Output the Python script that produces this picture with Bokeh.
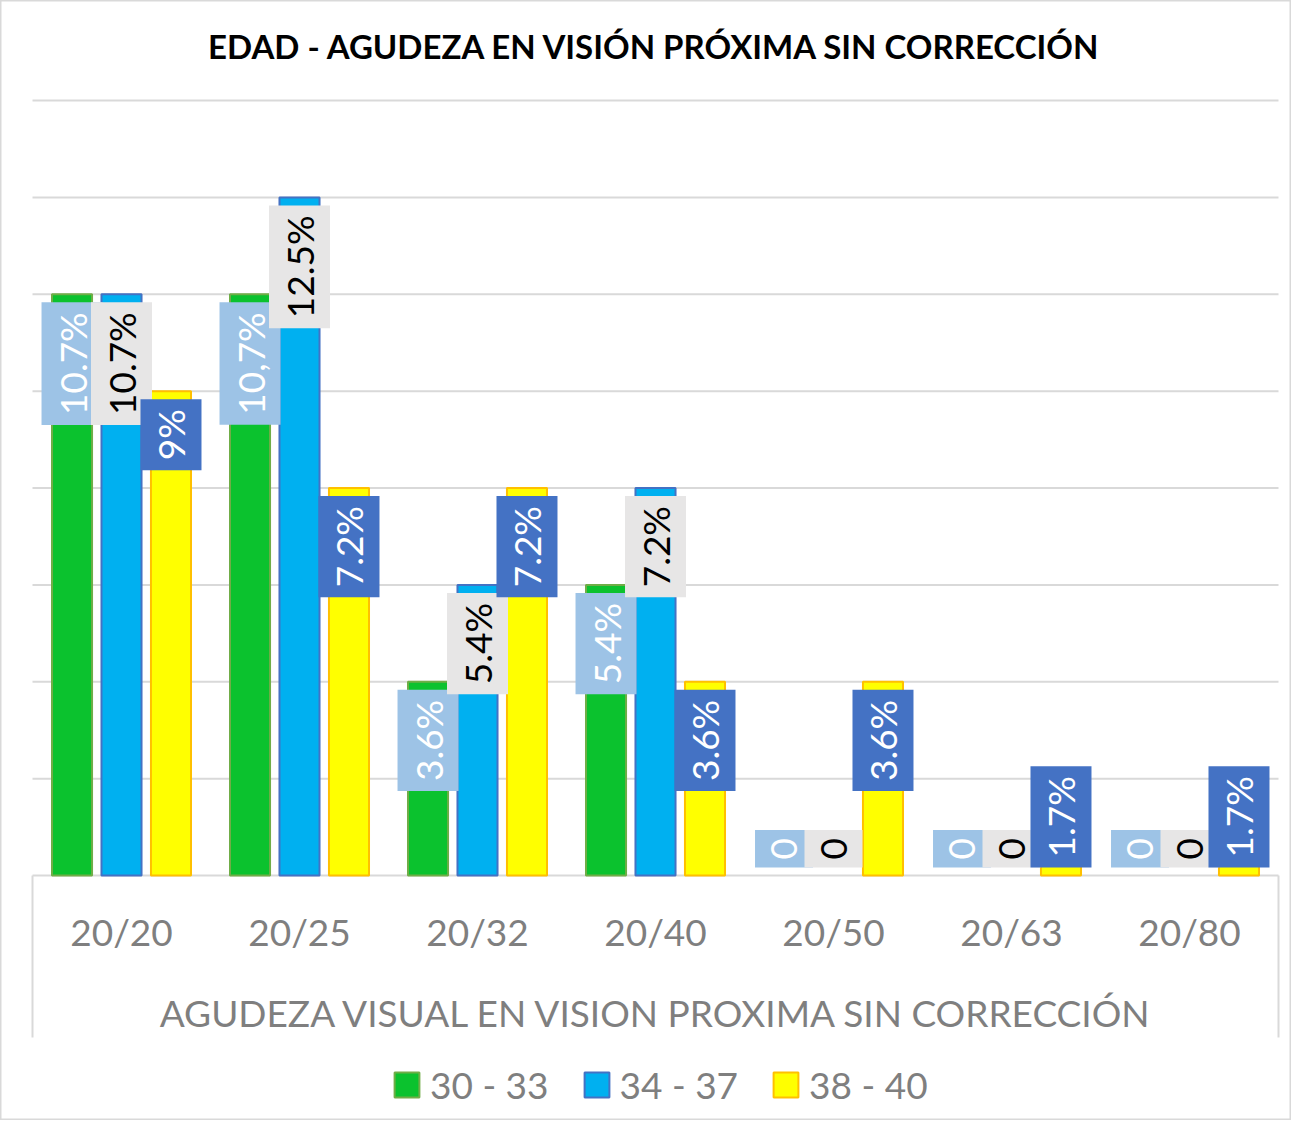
import math
from bokeh.plotting import figure
from bokeh.models import Range1d, ColumnDataSource, Legend, LegendItem
from bokeh.transform import dodge
from bokeh.core.properties import value
from bokeh.embed import file_html
from bokeh.resources import INLINE

# ---------------- data ----------------
categories = ["20/20", "20/25", "20/32", "20/40", "20/50", "20/63", "20/80"]
series_names = ["30 - 33", "34 - 37", "38 - 40"]
vals_30_33 = [6, 6, 2, 3, 0, 0, 0]
vals_34_37 = [6, 7, 3, 4, 0, 0, 0]
vals_38_40 = [5, 4, 4, 2, 2, 1, 1]
labels_30_33 = ["10.7%", "10,7%", "3.6%", "5.4%", "0", "0", "0"]
labels_34_37 = ["10.7%", "12.5%", "5.4%", "7.2%", "0", "0", "0"]
labels_38_40 = ["9%", "7.2%", "7.2%", "3.6%", "3.6%", "1.7%", "1.7%"]
y_ticks = [0, 1, 2, 3, 4, 5, 6, 7, 8]
title_text = "EDAD - AGUDEZA EN VISIÓN PRÓXIMA SIN CORRECCIÓN"
x_title = "AGUDEZA VISUAL EN VISION PROXIMA  SIN CORRECCIÓN"

# ---------------- style / layout ----------------
FONT = "Lato"
GRAY = "#7F7F7F"
GRID = "#D9D9D9"
fills = ["#0BC22E", "#00B0F0", "#FFFF00"]
lines = ["#70AD47", "#4472C4", "#FFC000"]
lab_bg = ["#9DC3E6", "#E7E6E6", "#4472C4"]
lab_fg = ["#FFFFFF", "#000000", "#FFFFFF"]
offsets = [-0.278, 0.0, 0.278]
BAR_W = 0.225
N = len(categories)
X_MIN, X_MAX = -0.1798, N + 0.0730
Y_MIN, Y_MAX = -2.5290, 9.0323
Y_TITLE, Y_CAT, Y_XTITLE, Y_BOX = 8.5677, -0.578, -1.414, -1.672

W, H = 1291, 1120
p = figure(width=W, height=H,
           x_range=Range1d(X_MIN, X_MAX), y_range=Range1d(Y_MIN, Y_MAX),
           x_axis_location=None, y_axis_location=None,
           output_backend="svg", toolbar_location=None, min_border=0)
p.outline_line_color = GRID
p.outline_line_width = 2
p.background_fill_color = "white"
p.border_fill_color = "white"
p.xgrid.visible = False
p.ygrid.visible = False

xs = [i + 0.5 for i in range(N)]

# horizontal gridlines (restricted to the plot area) and side lines of the axis box
gs = ColumnDataSource(dict(y=y_ticks, x0=[0] * len(y_ticks), x1=[N] * len(y_ticks)))
p.segment(x0="x0", x1="x1", y0="y", y1="y", source=gs, line_color=GRID, line_width=2)
p.segment(x0=[0, N], x1=[0, N], y0=[0, 0], y1=[Y_BOX, Y_BOX], line_color=GRID, line_width=2)

all_vals = [vals_30_33, vals_34_37, vals_38_40]
all_labs = [labels_30_33, labels_34_37, labels_38_40]

renderers = []
for i in range(3):
    s = ColumnDataSource(dict(x=xs, v=all_vals[i],
                              la=[0.0 if v == 0 else 1.0 for v in all_vals[i]]))
    r = p.vbar(x=dodge("x", offsets[i]), top="v", width=BAR_W,
               source=s, fill_color=fills[i], line_color=lines[i], line_width=2,
               line_alpha="la")
    renderers.append(r)

# data labels
for i in range(3):
    vals, labs = all_vals[i], all_labs[i]
    groups = (
        ([j for j, v in enumerate(vals) if v > 1], "right", 8, dict(left=10, right=10, top=8, bottom=8)),
        ([j for j, v in enumerate(vals) if v == 1], "left", -8, dict(left=10, right=10, top=8, bottom=8)),
        ([j for j, v in enumerate(vals) if v == 0], "left", -8, dict(left=8, right=8, top=16, bottom=16)),
    )
    for idx, align, yoff, pad in groups:
        if not idx:
            continue
        s = ColumnDataSource(dict(x=[xs[j] for j in idx],
                                  y=[vals[j] if align == "right" else 0 for j in idx],
                                  t=[labs[j] for j in idx]))
        p.text(x=dodge("x", offsets[i]), y="y", text="t", source=s,
               angle=math.pi / 2, text_align=align, text_baseline="middle",
               y_offset=yoff, text_font=value(FONT), text_font_size="37px",
               text_color=lab_fg[i], background_fill_color=lab_bg[i], padding=pad)

# title, category labels and axis title
p.text(x=[N / 2], y=[Y_TITLE], text=[title_text],
       text_align="center", text_baseline="middle", text_font=value(FONT),
       text_font_style="bold", text_font_size="33px", text_color="#000000")
cs = ColumnDataSource(dict(x=xs, cat=categories))
p.text(x="x", y=Y_CAT, text="cat", source=cs, text_align="center", text_baseline="middle",
       text_font=value(FONT), text_font_size="37px", text_color=GRAY)
p.text(x=[N / 2], y=[Y_XTITLE], text=[x_title], x_offset=7,
       text_align="center", text_baseline="middle",
       text_font=value(FONT), text_font_size="37px", text_color=GRAY)

legend = Legend(items=[LegendItem(label=series_names[i], renderers=[renderers[i]]) for i in range(3)],
                orientation="horizontal", location=(391, 13),
                glyph_width=31, glyph_height=31, label_standoff=8, spacing=32,
                label_text_font=FONT, label_text_font_size="37px", label_text_color=GRAY,
                border_line_color=None, background_fill_alpha=0, padding=0, margin=0)
p.add_layout(legend)

open("out.html", "w").write(file_html(p, INLINE))
